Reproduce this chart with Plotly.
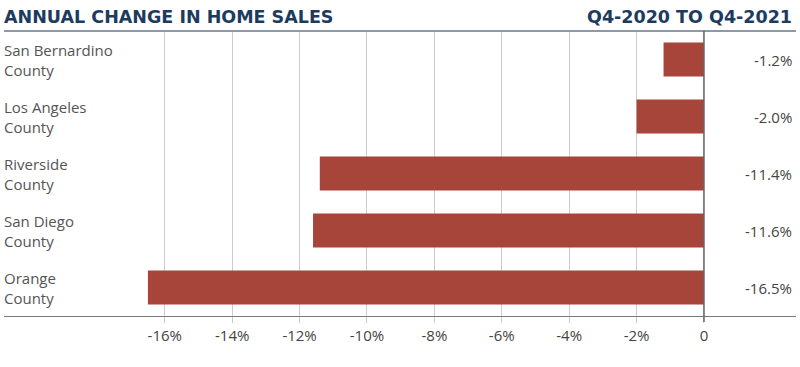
import plotly.graph_objects as go

categories = ["San Bernardino<br>County", "Los Angeles<br>County", "Riverside<br>County",
              "San Diego<br>County", "Orange<br>County"]
values = [-1.2, -2.0, -11.4, -11.6, -16.5]
value_labels = ["-1.2%", "-2.0%", "-11.4%", "-11.6%", "-16.5%"]
tick_vals = [-16, -14, -12, -10, -8, -6, -4, -2, 0]
tick_text = ["-16%", "-14%", "-12%", "-10%", "-8%", "-6%", "-4%", "-2%", "0"]

navy = "#1d3b5e"
bar_color = "#a8453a"
font_main = "Open Sans, Lato, sans-serif"
font_title = "DejaVu Sans, sans-serif"

fig = go.Figure()
fig.add_trace(go.Bar(
    x=values, y=categories, orientation="h",
    marker=dict(color=bar_color, line=dict(width=0)),
    hoverinfo="skip",
))

annotations = []
for c, t in zip(categories, value_labels):
    annotations.append(dict(x=0.998, xref="paper", y=c, yref="y", text=t, showarrow=False,
                            xanchor="right", font=dict(family=font_main, size=15, color="#444")))
for c in categories:
    annotations.append(dict(x=-0.003, xref="paper", y=c, yref="y", text=c, showarrow=False,
                            xanchor="left", align="left",
                            font=dict(family=font_main, size=15, color="#555")))
annotations.append(dict(x=-0.003, xref="paper", y=1, yref="paper", yanchor="bottom", yshift=2,
                        text="<b>ANNUAL CHANGE IN HOME SALES</b>", showarrow=False, xanchor="left",
                        font=dict(family=font_title, size=17.5, color=navy)))
annotations.append(dict(x=0.998, xref="paper", y=1, yref="paper", yanchor="bottom", yshift=2,
                        text="<b>Q4-2020 TO Q4-2021</b>", showarrow=False, xanchor="right",
                        font=dict(family=font_title, size=17.5, color=navy)))

fig.update_layout(
    width=800, height=367,
    margin=dict(l=4, r=4, t=31, b=51),
    paper_bgcolor="white", plot_bgcolor="white",
    bargap=0.4,
    showlegend=False,
    annotations=annotations,
    xaxis=dict(range=[-20.77, 2.73], tickvals=tick_vals, ticktext=tick_text,
               showgrid=True, gridcolor="#cccccc", gridwidth=1,
               zeroline=False, showline=True, linecolor="#7a7a7a", linewidth=1,
               ticks="outside", ticklen=6, tickcolor="#cccccc",
               tickfont=dict(family=font_main, size=15, color="#444"),
               fixedrange=True),
    yaxis=dict(categoryorder="array", categoryarray=categories[::-1],
               showticklabels=False, showgrid=False, zeroline=False, fixedrange=True),
    shapes=[
        dict(type="line", xref="paper", yref="paper", x0=0, x1=1, y0=1, y1=1,
             line=dict(color="#8d9aa6", width=2)),
        dict(type="line", xref="x", yref="paper", x0=0, x1=0, y0=-0.021, y1=1,
             line=dict(color="#666666", width=1.5)),
    ],
)

fig.write_html("out.html", config={"displayModeBar": False},
               post_script="document.body.style.margin='0';")
